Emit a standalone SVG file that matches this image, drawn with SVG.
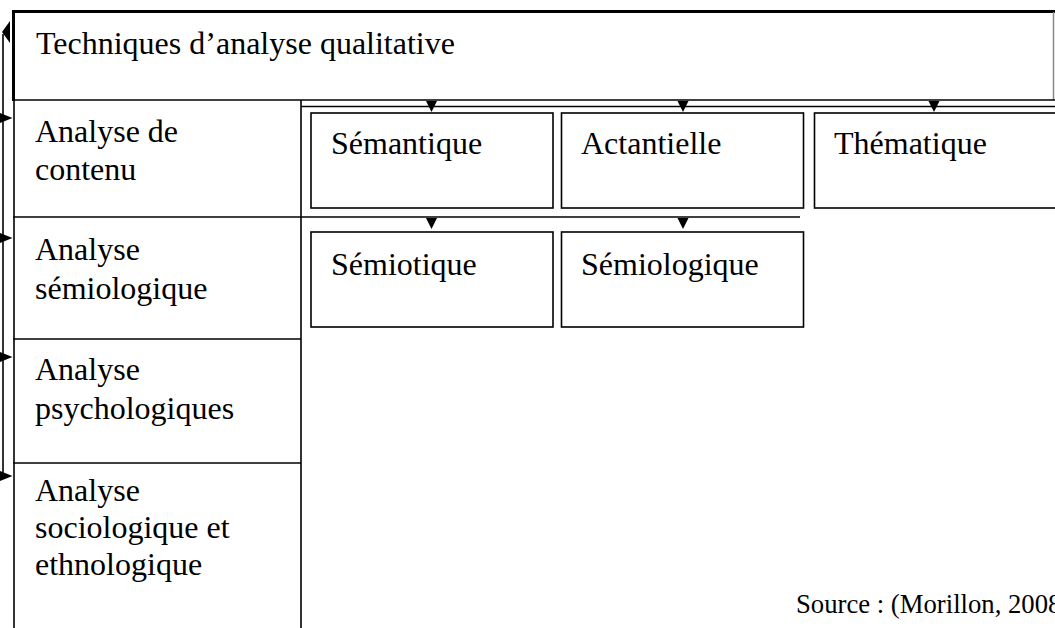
<svg xmlns="http://www.w3.org/2000/svg" width="1055" height="628" viewBox="0 0 1055 628">
<style>
text{font-family:"Liberation Serif","Times New Roman",serif;font-size:32px;fill:#000}
.src{font-size:26.7px}
.box{fill:#fff;stroke:#000;stroke-width:1.6}
.ln{stroke:#000;stroke-width:1.6;fill:none}
.ah{fill:#000}
</style>
<rect width="1055" height="628" fill="#fff"/>
<g id="title">
<line x1="12" y1="11.5" x2="1055" y2="11.5" stroke="#000" stroke-width="3"/>
<line x1="13.5" y1="10" x2="13.5" y2="101" stroke="#000" stroke-width="3"/>
<line x1="1053.5" y1="12" x2="1053.5" y2="100" stroke="#888" stroke-width="1.5"/>
<line x1="13" y1="100" x2="1055" y2="100" class="ln"/>
<text x="36" y="54">Techniques d’analyse qualitative</text>
</g>
<g id="col-left">
<line x1="14" y1="100" x2="14" y2="628" class="ln" stroke-width="2"/>
<line x1="301" y1="100" x2="301" y2="628" class="ln" stroke-width="2"/>
</g>
<g id="row-contenu">
<text x="35" y="142">Analyse de</text>
<text x="35" y="180">contenu</text>
</g>
<g id="row-semiologique">
<line x1="13" y1="217" x2="301" y2="217" class="ln"/>
<text x="35" y="260">Analyse</text>
<text x="35" y="299">sémiologique</text>
</g>
<g id="row-psycho">
<line x1="13" y1="339" x2="301" y2="339" class="ln"/>
<text x="35" y="380">Analyse</text>
<text x="35" y="419">psychologiques</text>
</g>
<g id="row-socio">
<line x1="13" y1="463" x2="301" y2="463" class="ln"/>
<text x="35" y="501">Analyse</text>
<text x="35" y="538">sociologique et</text>
<text x="35" y="575">ethnologique</text>
</g>
<g id="semantique">
<rect class="box" x="311" y="113" width="242" height="95"/>
<text x="331" y="154">Sémantique</text>
</g>
<g id="actantielle">
<rect class="box" x="561.5" y="113" width="242" height="95"/>
<text x="581" y="154">Actantielle</text>
</g>
<g id="thematique">
<rect class="box" x="814.5" y="113" width="260" height="95"/>
<text x="834" y="154">Thématique</text>
</g>
<g id="semiotique">
<rect class="box" x="311" y="232" width="242" height="95"/>
<text x="331" y="275">Sémiotique</text>
</g>
<g id="semiologique">
<rect class="box" x="561.5" y="232" width="242" height="95"/>
<text x="581" y="275">Sémiologique</text>
</g>
<g id="connectors">
<line x1="301" y1="106.5" x2="1055" y2="106.5" class="ln" stroke-width="2"/>
<polygon class="ah" points="426,101 437,101 431.5,112"/>
<polygon class="ah" points="677.5,101 688.5,101 683,112"/>
<polygon class="ah" points="928.5,101 939.5,101 934,112"/>
<line x1="301" y1="217" x2="800" y2="217" class="ln"/>
<polygon class="ah" points="426,218 437,218 431.5,229"/>
<polygon class="ah" points="677.5,218 688.5,218 683,229"/>
<line x1="3" y1="34" x2="3" y2="477" class="ln" stroke-width="2"/>
<polygon class="ah" points="10,21 2,32 10,43"/>
<polygon class="ah" points="0,113 12.5,118 0,123"/>
<polygon class="ah" points="0,233 12.5,238 0,243"/>
<polygon class="ah" points="0,352 12.5,357 0,362"/>
<polygon class="ah" points="0,471 12.5,476 0,481"/>
</g>
<g id="source">
<text class="src" x="796" y="613">Source : (Morillon, 2008)</text>
</g>
</svg>
